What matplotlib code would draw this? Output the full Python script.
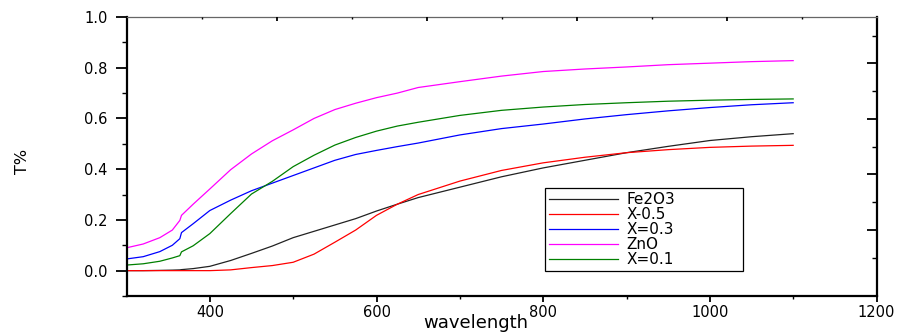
import numpy as np
import matplotlib
matplotlib.use('Agg')
import matplotlib.pyplot as plt

plt.rcParams['font.family'] = ['DejaVu Sans']

wavelength = [300, 320, 340, 355, 364, 366, 380, 400, 425, 450, 475, 500, 525,
              550, 575, 600, 625, 650, 700, 750, 800, 850, 900, 950, 1000, 1050, 1100]

fe2o3 = [0.0, 0.0, 0.001, 0.002, 0.003, 0.004, 0.008, 0.017, 0.040, 0.068, 0.097, 0.130, 0.155,
         0.180, 0.205, 0.235, 0.262, 0.288, 0.329, 0.370, 0.405, 0.435, 0.465, 0.490, 0.513, 0.528, 0.540]
x_05 = [0.0, 0.0, 0.0, 0.0, 0.0, 0.0, 0.0, 0.0, 0.003, 0.012, 0.020, 0.033, 0.065,
        0.112, 0.160, 0.218, 0.262, 0.300, 0.353, 0.395, 0.425, 0.447, 0.465, 0.477, 0.486, 0.491, 0.494]
x_03 = [0.046, 0.055, 0.075, 0.100, 0.126, 0.150, 0.185, 0.237, 0.278, 0.315, 0.345, 0.375, 0.405,
        0.435, 0.458, 0.474, 0.489, 0.503, 0.535, 0.560, 0.578, 0.598, 0.615, 0.630, 0.643, 0.654, 0.662]
zno = [0.090, 0.105, 0.130, 0.160, 0.198, 0.218, 0.262, 0.322, 0.398, 0.460, 0.512, 0.555, 0.600,
       0.635, 0.660, 0.682, 0.700, 0.722, 0.745, 0.767, 0.785, 0.795, 0.803, 0.812, 0.818, 0.824, 0.828]
x_01 = [0.022, 0.027, 0.037, 0.050, 0.059, 0.074, 0.098, 0.146, 0.225, 0.302, 0.352, 0.410, 0.455,
        0.495, 0.525, 0.550, 0.570, 0.585, 0.612, 0.632, 0.645, 0.655, 0.662, 0.668, 0.672, 0.675, 0.677]

series = [
    ('Fe2O3', fe2o3, '#222222'),
    ('X-0.5', x_05, '#ff0000'),
    ('X=0.3', x_03, '#0000ff'),
    ('ZnO', zno, '#ff00ff'),
    ('X=0.1', x_01, '#008000'),
]

fig = plt.figure(figsize=(9.02, 3.35), dpi=100)
ax = fig.add_axes([126.5 / 902, 39 / 335, 750 / 902, 279 / 335])

for name, vals, col in series:
    ax.plot(wavelength, vals, color=col, lw=0.9, label=name)

ax.set_xlim(300, 1200)
ax.set_ylim(-0.1, 1.0)
ax.set_xticks([400, 600, 800, 1000, 1200])
ax.set_xticks([500, 700, 900, 1100], minor=True)
ax.set_yticks([0.0, 0.2, 0.4, 0.6, 0.8, 1.0])
ax.set_yticks([-0.1, 0.1, 0.3, 0.5, 0.7, 0.9], minor=True)
ax.yaxis.set_major_formatter(matplotlib.ticker.FormatStrFormatter('%.1f'))

ax.tick_params(axis='x', which='major', direction='out', length=4.5, width=1.3,
               labelsize=10.5, pad=2)
ax.tick_params(axis='x', which='minor', direction='out', length=2.2, width=1.0)
ax.tick_params(axis='y', which='major', direction='out', length=8, width=1.3,
               labelsize=10.5, pad=5.5)
ax.tick_params(axis='y', which='minor', direction='out', length=3.6, width=1.0)

for side in ['left', 'bottom', 'right']:
    ax.spines[side].set_linewidth(1.6)
    ax.spines[side].set_color('black')
ax.spines['top'].set_linewidth(0.9)
ax.spines['top'].set_color('#666666')

# top and right ticks (independent spacing)
axt = ax.twiny()
axt.set_xlim(0, 1)
axt.set_xticks([0.2, 0.4, 0.6, 0.8])
axt.set_xticks([0.1, 0.3, 0.5, 0.7, 0.9], minor=True)
axt.tick_params(axis='x', which='major', direction='in', length=3, width=1.3, labeltop=False)
axt.tick_params(axis='x', which='minor', direction='in', length=1.6, width=1.0)
for s in axt.spines.values():
    s.set_visible(False)

axr = ax.twinx()
axr.set_ylim(0, 1)
right_pos = [0.137 + 0.0995 * k for k in range(9)]
axr.set_yticks(right_pos[1::2])
axr.set_yticks(right_pos[0::2], minor=True)
axr.tick_params(axis='y', which='major', direction='in', length=7, width=1.3, labelright=False)
axr.tick_params(axis='y', which='minor', direction='in', length=3.6, width=1.0)
for s in axr.spines.values():
    s.set_visible(False)

ax.set_xlabel('wavelength', fontsize=13)
ax.xaxis.set_label_coords(0.466, -0.098)
ax.xaxis.label.set_va('center')
ax.set_ylabel('T%', fontsize=11.5)
ax.yaxis.set_label_coords(-0.138, 0.484)
ax.yaxis.label.set_va('center')

leg = ax.legend(loc='lower left', bbox_to_anchor=(0.558, 0.09, 0.264, 0.283),
                mode='expand', fontsize=11, handlelength=4.5, handletextpad=0.6,
                labelspacing=0.0, borderpad=0.25, borderaxespad=0,
                fancybox=False, framealpha=1, edgecolor='black')
leg.get_frame().set_linewidth(0.9)

fig.savefig('out.png', dpi=100)
